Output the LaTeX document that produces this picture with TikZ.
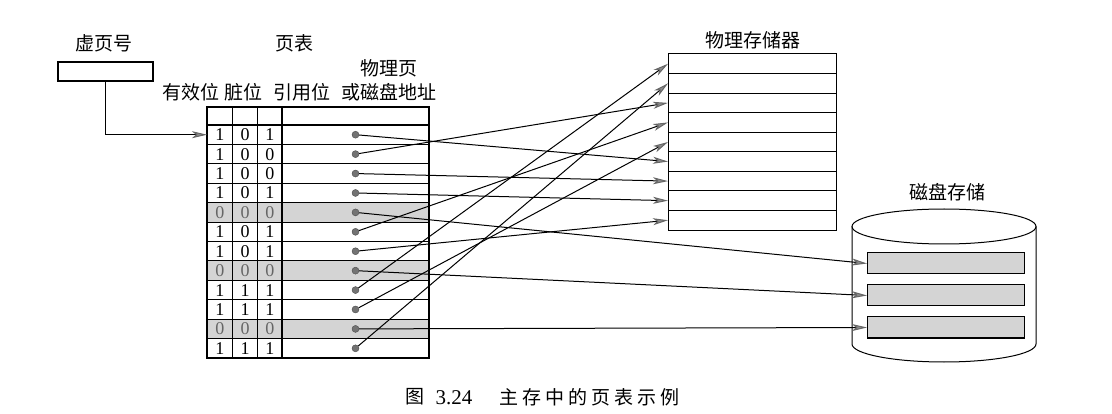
\documentclass[tikz,border=0pt]{standalone}
\usepackage{fontspec}
\newfontfamily\cjk{Noto Sans CJK SC}
\newfontfamily\tms{Liberation Serif}
\usetikzlibrary{arrows.meta}
\begin{document}
\begin{tikzpicture}[x=1pt,y=-1pt,
  lbl/.style={font=\cjk\fontsize{19}{22}\selectfont, inner sep=0},
  bit/.style={font=\tms\fontsize{18}{20}\selectfont, inner sep=0},
  dot/.style={circle, fill=black!55, draw=black!70, line width=0.4pt, inner sep=0, minimum size=7pt},
  memslot/.style={draw, line width=1pt, minimum width=168pt, minimum height=19.556pt, inner sep=0, outer sep=0},
  diskslot/.style={draw, line width=1pt, fill=black!17, minimum width=157pt, minimum height=21pt, inner sep=0, outer sep=0},
  link/.style={line width=1pt, -{Stealth[length=15pt,width=7pt,inset=4pt,fill=black!45,color=black!60]}},
  grid/.style={line width=1.1pt}]
\useasboundingbox (0,0) rectangle (1112,414);
\fill[white] (0,0) rectangle (1112,414);

% labels
\node[lbl] (lvpn) at (104,43) {虚页号};
\node[lbl] (lpt) at (294,43) {页表};
\node[lbl] (lphys) at (389,68) {物理页};
\node[lbl] (lv) at (191,92) {有效位};
\node[lbl] (ld) at (243,92) {脏位};
\node[lbl] (lr) at (301.5,92) {引用位};
\node[lbl] (la) at (389,92) {或磁盘地址};
\node[lbl] (lmem) at (753,40) {物理存储器};
\node[lbl] (ldisk) at (947,192) {磁盘存储};

% virtual page number box
\node[draw, line width=1.5pt, minimum width=95pt, minimum height=19pt, inner sep=0] (vpn) at (105.5,71.5) {};

% page table
\foreach \i in {5,8,11}
  \fill[black!17] (207,{125+19.42*(\i-1)}) rectangle (429,{125+19.42*\i});
\draw[grid] (207,107) rectangle (429,358);
\foreach \i in {0,...,11}
  \draw[grid] (207,{125+19.42*\i}) -- (429,{125+19.42*\i});
\foreach \x in {232.5,257.5,282}
  \draw[grid] (\x,107) -- (\x,358);
\coordinate (t1) at (207,{125+19.42*0.5});
\foreach \i/\a/\b/\c/\col in {1/1/0/1/black, 2/1/0/0/black, 3/1/0/0/black, 4/1/0/1/black, 5/0/0/0/black!60, 6/1/0/1/black, 7/1/0/1/black, 8/0/0/0/black!60, 9/1/1/1/black, 10/1/1/1/black, 11/0/0/0/black!60, 12/1/1/1/black}{
  \node[bit, text=\col] (b\i a) at (219.75,{125+19.42*(\i-0.5)}) {\a};
  \node[bit, text=\col] (b\i b) at (245,{125+19.42*(\i-0.5)}) {\b};
  \node[bit, text=\col] (b\i c) at (269.75,{125+19.42*(\i-0.5)}) {\c};
}

% physical memory
\foreach \j in {1,...,9}
  \node[memslot] (m\j) at (752,{54+19.556*(\j-0.5)}) {};

% disk
\draw[line width=1pt] (852,226.5) -- (852,344) arc[start angle=180, end angle=360, x radius=92pt, y radius=18pt] -- (1036,226.5);
\draw[line width=1pt] (944,226.5) ellipse[x radius=92pt, y radius=17.5pt];
\node[diskslot] (k1) at (945.5,263.5) {};
\node[diskslot] (k2) at (945.5,295.5) {};
\node[diskslot] (k3) at (945.5,327.5) {};

% dots
\foreach \i in {1,...,12}
  \node[dot] (d\i) at (355.5,{125+19.42*(\i-0.5)}) {};

% connectors
\draw[link] (vpn.south) |- (t1);
\foreach \i/\j in {1/6,2/3,3/7,4/8,6/4,7/9,9/1,10/5,12/2}
  \draw[link] (d\i) -- (m\j.west);
\foreach \i/\j in {5/1,8/2,11/3}
  \draw[link] (d\i) -- (k\j.west);

% caption
\node[lbl] (cap1) at (414.5,397) {图};
\node[inner sep=0, font=\tms\fontsize{21}{24}\selectfont] (cap2) at (454,398) {3.24};
\node[lbl, anchor=west] (cap3) at (499,397) {主\kern4pt 存\kern4pt 中\kern4pt 的\kern4pt 页\kern4pt 表\kern4pt 示\kern4pt 例};
\end{tikzpicture}
\end{document}
